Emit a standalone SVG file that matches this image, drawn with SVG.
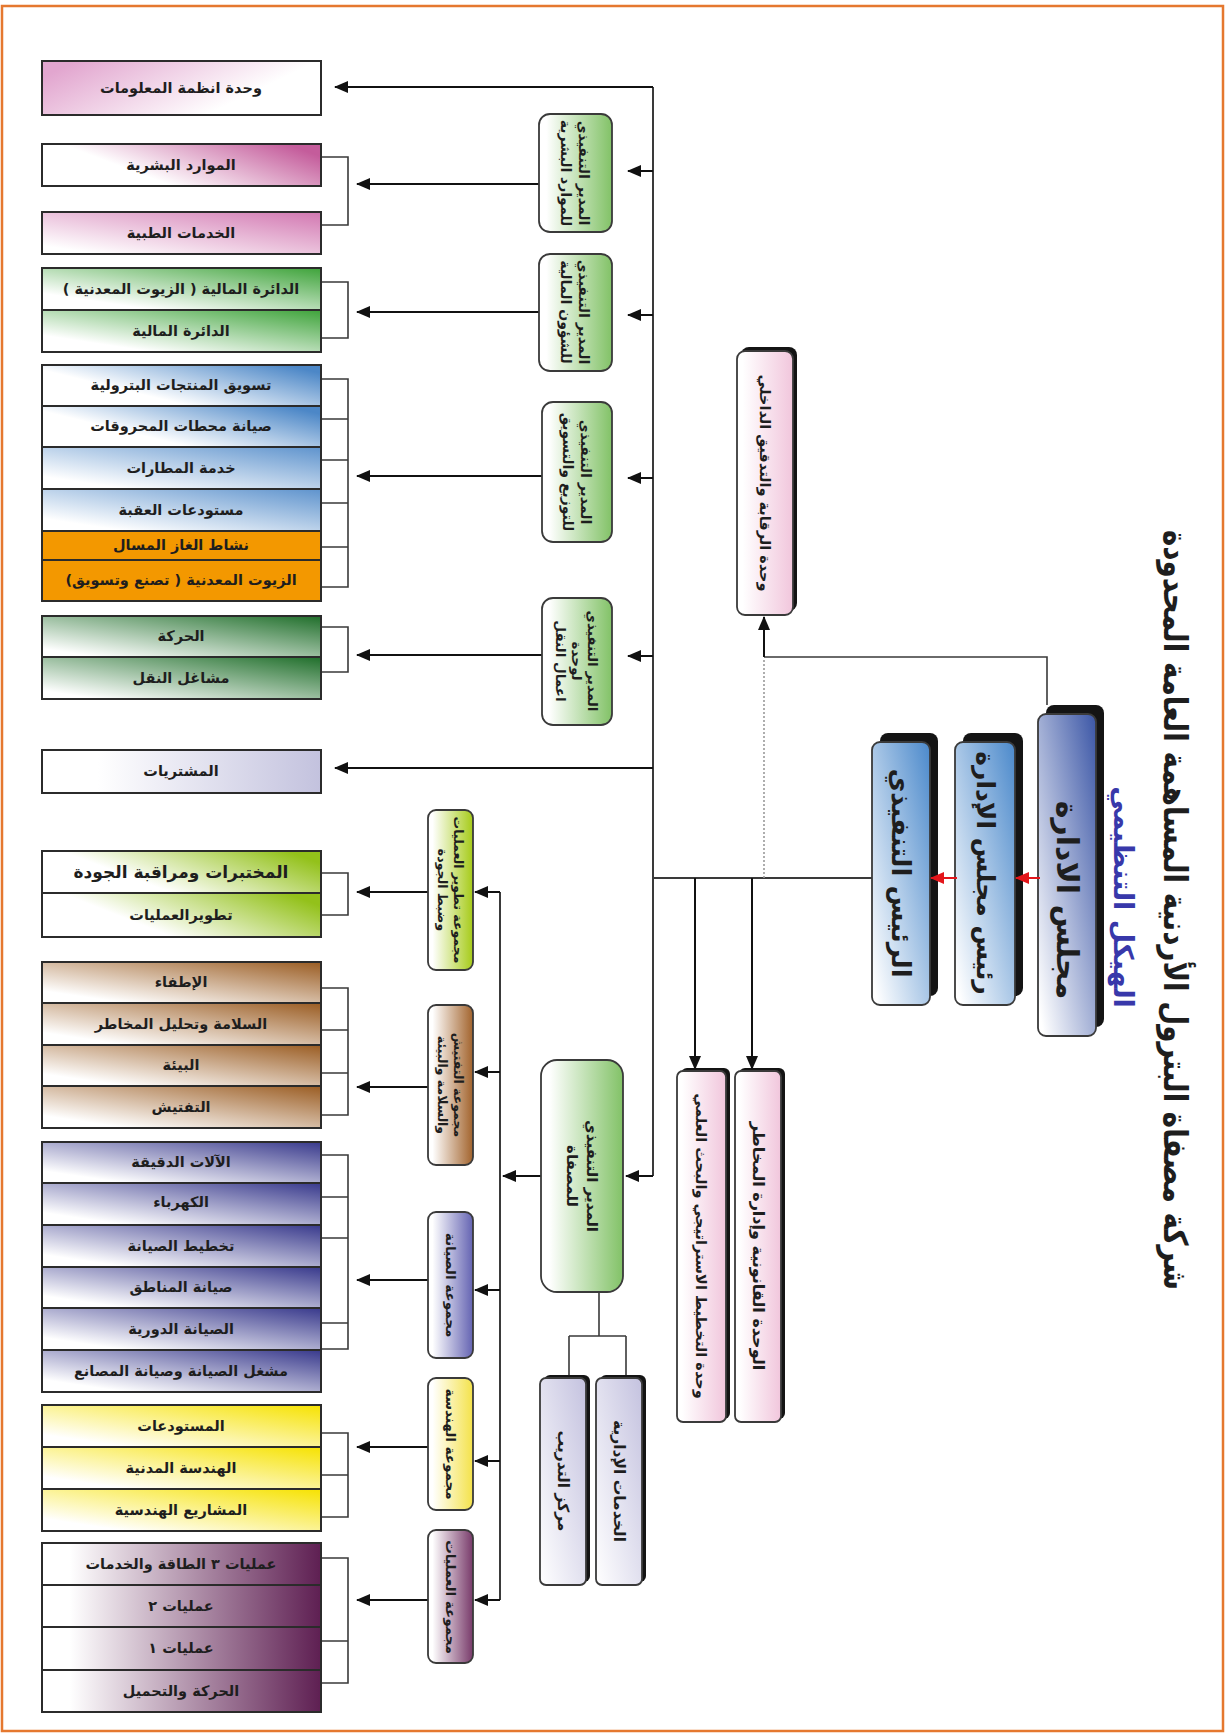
<svg xmlns="http://www.w3.org/2000/svg" width="1226" height="1733" viewBox="0 0 1226 1733">
<style>
.bx{stroke:#2b2b2b;stroke-width:2}
.rb{stroke:#3a3a3a;stroke-width:1.8}
.t{font-family:"DejaVu Sans",sans-serif;font-weight:bold;font-size:14.5px;fill:#1e1e1e;text-anchor:middle;dominant-baseline:central;direction:rtl}
.ln{stroke:#3a3a3a;stroke-width:1.6;fill:none}
.ar{stroke:#111;stroke-width:2;fill:none;marker-end:url(#ah)}
.rd{stroke:#e3161b;stroke-width:2;fill:none;marker-end:url(#ahr)}
.sh{fill:#141414}
</style>
<defs>
<marker id="ah" viewBox="0 0 14 12" refX="13" refY="6" markerWidth="14" markerHeight="12" markerUnits="userSpaceOnUse" orient="auto"><path d="M0,0 L14,6 L0,12 z" fill="#111"/></marker>
<marker id="ahr" viewBox="0 0 14 12" refX="13" refY="6" markerWidth="14" markerHeight="12" markerUnits="userSpaceOnUse" orient="auto"><path d="M0,0 L14,6 L0,12 z" fill="#e3161b"/></marker>
<linearGradient id="gPinkL" x1="0" y1="0.3" x2="1" y2="0.7"><stop offset="0" stop-color="#e2a6cf"/><stop offset="0.75" stop-color="#ffffff"/></linearGradient>
<linearGradient id="gMag" x1="0" y1="0.7" x2="1" y2="0.3"><stop offset="0.3" stop-color="#ffffff"/><stop offset="1" stop-color="#c45c9b"/></linearGradient>
<linearGradient id="gPinkM" x1="0" y1="1" x2="1" y2="0"><stop offset="0.1" stop-color="#ffffff"/><stop offset="1" stop-color="#d277b1"/></linearGradient>
<linearGradient id="gGreen" x1="0" y1="1" x2="1" y2="0"><stop offset="0.2" stop-color="#ffffff"/><stop offset="1" stop-color="#3ea33a"/></linearGradient>
<linearGradient id="gBlue" x1="0" y1="0.8" x2="1" y2="0.2"><stop offset="0.3" stop-color="#ffffff"/><stop offset="1" stop-color="#4c87c7"/></linearGradient>
<linearGradient id="gBlueL" x1="0" y1="1" x2="1" y2="0"><stop offset="0.15" stop-color="#ffffff"/><stop offset="1" stop-color="#5e93cd"/></linearGradient>
<linearGradient id="gDkGreen" x1="0" y1="1" x2="1" y2="0"><stop offset="0.1" stop-color="#ffffff"/><stop offset="1" stop-color="#1f6e2a"/></linearGradient>
<linearGradient id="gLav" x1="0" y1="0.5" x2="1" y2="0.5"><stop offset="0.2" stop-color="#ffffff"/><stop offset="1" stop-color="#c3c2de"/></linearGradient>
<linearGradient id="gLime" x1="0" y1="0.7" x2="1" y2="0.3"><stop offset="0.3" stop-color="#ffffff"/><stop offset="1" stop-color="#93c11a"/></linearGradient>
<linearGradient id="gBrown" x1="0" y1="1" x2="1" y2="0"><stop offset="0.15" stop-color="#ffffff"/><stop offset="1" stop-color="#9a5c22"/></linearGradient>
<linearGradient id="gIndigo" x1="0" y1="1" x2="1" y2="0"><stop offset="0.15" stop-color="#ffffff"/><stop offset="1" stop-color="#38398c"/></linearGradient>
<linearGradient id="gYellow" x1="0" y1="1" x2="1" y2="0"><stop offset="0.15" stop-color="#ffffff"/><stop offset="1" stop-color="#f6e200"/></linearGradient>
<linearGradient id="gPlum" x1="0" y1="0.5" x2="1" y2="0.5"><stop offset="0.1" stop-color="#ffffff"/><stop offset="1" stop-color="#5e1f52"/></linearGradient>
<linearGradient id="vGreen" x1="0" y1="0.5" x2="1" y2="0.5"><stop offset="0.1" stop-color="#ffffff"/><stop offset="1" stop-color="#82c267"/></linearGradient>
<linearGradient id="vLime" x1="0" y1="0.5" x2="1" y2="0.5"><stop offset="0.1" stop-color="#ffffff"/><stop offset="1" stop-color="#a6cb18"/></linearGradient>
<linearGradient id="vBrown" x1="0" y1="0.5" x2="1" y2="0.5"><stop offset="0.1" stop-color="#ffffff"/><stop offset="1" stop-color="#a2632c"/></linearGradient>
<linearGradient id="vIndigo" x1="0" y1="0.5" x2="1" y2="0.5"><stop offset="0.1" stop-color="#ffffff"/><stop offset="1" stop-color="#6463b2"/></linearGradient>
<linearGradient id="vYellow" x1="0" y1="0.5" x2="1" y2="0.5"><stop offset="0.1" stop-color="#ffffff"/><stop offset="1" stop-color="#f4e24a"/></linearGradient>
<linearGradient id="vPlum" x1="0" y1="0.5" x2="1" y2="0.5"><stop offset="0.1" stop-color="#ffffff"/><stop offset="1" stop-color="#783a6a"/></linearGradient>
<linearGradient id="vPink" x1="0" y1="0.5" x2="1" y2="0.5"><stop offset="0.1" stop-color="#ffffff"/><stop offset="1" stop-color="#f1c6dc"/></linearGradient>
<linearGradient id="vLav" x1="0" y1="1" x2="1" y2="0"><stop offset="0" stop-color="#ffffff"/><stop offset="1" stop-color="#c4c2df"/></linearGradient>
<linearGradient id="vBoard" x1="0" y1="1" x2="1" y2="0"><stop offset="0.05" stop-color="#ffffff"/><stop offset="1" stop-color="#3b56a6"/></linearGradient>
<linearGradient id="vBlue" x1="0" y1="1" x2="1" y2="0"><stop offset="0.05" stop-color="#ffffff"/><stop offset="1" stop-color="#4b89cb"/></linearGradient>
</defs>
<rect x="0" y="0" width="1226" height="1733" fill="#ffffff"/>
<rect x="2" y="6" width="1221" height="1725" fill="none" stroke="#e5782f" stroke-width="2.5"/>

<g id="title">
<text class="t" transform="translate(1175 910) rotate(90)" style="font-size:33px" textLength="760" lengthAdjust="spacingAndGlyphs">شركة مصفاة البترول الأردنية المساهمة العامة المحدودة</text>
<text class="t" transform="translate(1123 897) rotate(90)" style="font-size:27px;fill:#3838aa">الهيكل التنظيمي</text>
</g>

<g id="connectors">
<path class="ln" d="M321,157 H348 V225 H321"/>
<path class="ln" d="M321,282 H348 V338 H321"/>
<path class="ln" d="M321,379 H348 V587 H321 M321,419 H348 M321,460 H348 M321,503 H348 M321,547 H348"/>
<path class="ln" d="M321,627 H348 V672 H321"/>
<path class="ln" d="M321,873 H348 V915 H321"/>
<path class="ln" d="M321,988 H348 V1115 H321 M321,1030 H348 M321,1073 H348"/>
<path class="ln" d="M321,1155 H348 V1349 H321 M321,1197 H348 M321,1238 H348 M321,1323 H348"/>
<path class="ln" d="M321,1433 H348 V1517 H321 M321,1475 H348"/>
<path class="ln" d="M321,1558 H348 V1683 H321 M321,1641 H348"/>
<path class="ar" d="M539,184 H357"/>
<path class="ar" d="M539,312 H357"/>
<path class="ar" d="M542,476 H357"/>
<path class="ar" d="M542,655 H357"/>
<path class="ar" d="M428,892 H357"/>
<path class="ar" d="M428,1087 H357"/>
<path class="ar" d="M428,1280 H357"/>
<path class="ar" d="M428,1447 H357"/>
<path class="ar" d="M428,1600 H357"/>
<path class="ln" d="M653,87 V1176" style="stroke-width:2"/>
<path class="ar" d="M653,87 H335"/>
<path class="ar" d="M653,171 H628"/>
<path class="ar" d="M653,315 H628"/>
<path class="ar" d="M653,478 H628"/>
<path class="ar" d="M653,656 H628"/>
<path class="ar" d="M653,768 H335"/>
<path class="ar" d="M653,1176 H626"/>
<path class="ln" d="M872,878 H653" style="stroke-width:2"/>
<path class="ar" d="M695,878 V1069"/>
<path class="ar" d="M752,878 V1069"/>
<path d="M764,660 V878" stroke="#9a9a9a" stroke-width="1.6" stroke-dasharray="2 2" fill="none"/>
<path class="ln" d="M1047,705 V657 H764"/>
<path class="ar" d="M764,657 V617"/>
<path class="ln" d="M500,892 V1600" style="stroke-width:2"/>
<path class="ar" d="M500,892 H475"/>
<path class="ar" d="M500,1072 H475"/>
<path class="ar" d="M500,1290 H475"/>
<path class="ar" d="M500,1461 H475"/>
<path class="ar" d="M500,1600 H475"/>
<path class="ar" d="M541,1176 H503"/>
<path class="ln" d="M599,1292 V1336 M569,1336 H626 M569,1336 V1378 M626,1336 V1378"/>
</g>

<g id="info-systems"><rect class="bx" x="42" y="61" width="279" height="54" fill="url(#gPinkL)"/><text class="t" x="181" y="88">وحدة انظمة المعلومات</text></g>
<g id="hr"><rect class="bx" x="42" y="144" width="279" height="42" fill="url(#gMag)"/><text class="t" x="181" y="165">الموارد البشرية</text></g>
<g id="medical"><rect class="bx" x="42" y="212" width="279" height="42" fill="url(#gPinkM)"/><text class="t" x="181" y="233">الخدمات الطبية</text></g>
<g id="finance-oils"><rect class="bx" x="42" y="268" width="279" height="42" fill="url(#gGreen)"/><text class="t" x="181" y="289">الدائرة المالية ( الزيوت المعدنية )</text></g>
<g id="finance"><rect class="bx" x="42" y="310" width="279" height="42" fill="url(#gGreen)"/><text class="t" x="181" y="331">الدائرة المالية</text></g>
<g id="marketing"><rect class="bx" x="42" y="365" width="279" height="41" fill="url(#gBlue)"/><text class="t" x="181" y="385">تسويق المنتجات البترولية</text></g>
<g id="stations"><rect class="bx" x="42" y="406" width="279" height="41" fill="url(#gBlue)"/><text class="t" x="181" y="426">صيانة محطات المحروقات</text></g>
<g id="airports"><rect class="bx" x="42" y="447" width="279" height="42" fill="url(#gBlueL)"/><text class="t" x="181" y="468">خدمة المطارات</text></g>
<g id="aqaba"><rect class="bx" x="42" y="489" width="279" height="42" fill="url(#gBlueL)"/><text class="t" x="181" y="510">مستودعات العقبة</text></g>
<g id="lpg"><rect class="bx" x="42" y="531" width="279" height="29" fill="#f39800"/><text class="t" x="181" y="545">نشاط الغاز المسال</text></g>
<g id="oils"><rect class="bx" x="42" y="560" width="279" height="41" fill="#f39800"/><text class="t" x="181" y="580">الزيوت المعدنية ( تصنع وتسويق)</text></g>
<g id="movement"><rect class="bx" x="42" y="616" width="279" height="41" fill="url(#gDkGreen)"/><text class="t" x="181" y="636">الحركة</text></g>
<g id="workshops"><rect class="bx" x="42" y="657" width="279" height="42" fill="url(#gDkGreen)"/><text class="t" x="181" y="678">مشاغل النقل</text></g>
<g id="purchases"><rect class="bx" x="42" y="750" width="279" height="43" fill="url(#gLav)"/><text class="t" x="181" y="771">المشتريات</text></g>
<g id="labs"><rect class="bx" x="42" y="851" width="279" height="42" fill="url(#gLime)"/><text class="t" x="181" y="872" style="font-size:17px">المختبرات ومراقبة الجودة</text></g>
<g id="process-dev"><rect class="bx" x="42" y="893" width="279" height="44" fill="url(#gLime)"/><text class="t" x="181" y="915">تطويرالعمليات</text></g>
<g id="fire"><rect class="bx" x="42" y="962" width="279" height="41" fill="url(#gBrown)"/><text class="t" x="181" y="982">الإطفاء</text></g>
<g id="safety"><rect class="bx" x="42" y="1003" width="279" height="42" fill="url(#gBrown)"/><text class="t" x="181" y="1024">السلامة وتحليل المخاطر</text></g>
<g id="environment"><rect class="bx" x="42" y="1045" width="279" height="41" fill="url(#gBrown)"/><text class="t" x="181" y="1065">البيئة</text></g>
<g id="inspection"><rect class="bx" x="42" y="1086" width="279" height="42" fill="url(#gBrown)"/><text class="t" x="181" y="1107">التفتيش</text></g>
<g id="instruments"><rect class="bx" x="42" y="1142" width="279" height="41" fill="url(#gIndigo)"/><text class="t" x="181" y="1162">الآلات الدقيقة</text></g>
<g id="electric"><rect class="bx" x="42" y="1183" width="279" height="42" fill="url(#gIndigo)"/><text class="t" x="181" y="1202">الكهرباء</text></g>
<g id="planning"><rect class="bx" x="42" y="1225" width="279" height="42" fill="url(#gIndigo)"/><text class="t" x="181" y="1246">تخطيط الصيانة</text></g>
<g id="areas"><rect class="bx" x="42" y="1267" width="279" height="41" fill="url(#gIndigo)"/><text class="t" x="181" y="1287">صيانة المناطق</text></g>
<g id="periodic"><rect class="bx" x="42" y="1308" width="279" height="42" fill="url(#gIndigo)"/><text class="t" x="181" y="1329">الصيانة الدورية</text></g>
<g id="shops"><rect class="bx" x="42" y="1350" width="279" height="42" fill="url(#gIndigo)"/><text class="t" x="181" y="1371">مشغل الصيانة وصيانة المصانع</text></g>
<g id="warehouses"><rect class="bx" x="42" y="1405" width="279" height="42" fill="url(#gYellow)"/><text class="t" x="181" y="1426">المستودعات</text></g>
<g id="civil"><rect class="bx" x="42" y="1447" width="279" height="42" fill="url(#gYellow)"/><text class="t" x="181" y="1468">الهندسة المدنية</text></g>
<g id="projects"><rect class="bx" x="42" y="1489" width="279" height="42" fill="url(#gYellow)"/><text class="t" x="181" y="1510">المشاريع الهندسية</text></g>
<g id="ops3"><rect class="bx" x="42" y="1543" width="279" height="42" fill="url(#gPlum)"/><text class="t" x="181" y="1564">عمليات ٣ الطاقة والخدمات</text></g>
<g id="ops2"><rect class="bx" x="42" y="1585" width="279" height="42" fill="url(#gPlum)"/><text class="t" x="181" y="1606">عمليات ٢</text></g>
<g id="ops1"><rect class="bx" x="42" y="1627" width="279" height="43" fill="url(#gPlum)"/><text class="t" x="181" y="1648">عمليات ١</text></g>
<g id="loading"><rect class="bx" x="42" y="1670" width="279" height="42" fill="url(#gPlum)"/><text class="t" x="181" y="1691">الحركة والتحميل</text></g>

<g id="exec-hr"><rect class="rb" x="539" y="114" width="73" height="118" rx="11" fill="url(#vGreen)"/><text class="t" transform="translate(575 173) rotate(90)" style="font-size:14px"><tspan x="0" y="-9">المدير التنفيذي</tspan><tspan x="0" y="9">للموارد البشرية</tspan></text></g>
<g id="exec-finance"><rect class="rb" x="539" y="254" width="73" height="117" rx="11" fill="url(#vGreen)"/><text class="t" transform="translate(575 312) rotate(90)" style="font-size:14px"><tspan x="0" y="-9">المدير التنفيذي</tspan><tspan x="0" y="9">للشؤون المالية</tspan></text></g>
<g id="exec-distribution"><rect class="rb" x="542" y="402" width="70" height="140" rx="11" fill="url(#vGreen)"/><text class="t" transform="translate(577 472) rotate(90)" style="font-size:14px"><tspan x="0" y="-9">المدير التنفيذي</tspan><tspan x="0" y="9">للتوزيع والتسويق</tspan></text></g>
<g id="exec-transport"><rect class="rb" x="542" y="598" width="70" height="127" rx="11" fill="url(#vGreen)"/><text class="t" transform="translate(577 661) rotate(90)" style="font-size:13.5px"><tspan x="0" y="-16">المدير التنفيذي</tspan><tspan x="0" y="0">لوحدة</tspan><tspan x="0" y="16">اعمال النقل</tspan></text></g>
<g id="exec-refinery"><rect class="rb" x="541" y="1060" width="82" height="232" rx="16" fill="url(#vGreen)"/><text class="t" transform="translate(582 1176) rotate(90)" style="font-size:15px"><tspan x="0" y="-10">المدير التنفيذي</tspan><tspan x="0" y="10">للمصفاة</tspan></text></g>

<g id="grp-quality"><rect class="rb" x="428" y="810" width="45" height="160" rx="8" fill="url(#vLime)"/><text class="t" transform="translate(451 890) rotate(90)" style="font-size:12.5px"><tspan x="0" y="-8">مجموعة تطوير العمليات</tspan><tspan x="0" y="8">وضبط الجودة</tspan></text></g>
<g id="grp-safety"><rect class="rb" x="428" y="1005" width="45" height="160" rx="8" fill="url(#vBrown)"/><text class="t" transform="translate(451 1085) rotate(90)" style="font-size:12.5px"><tspan x="0" y="-8">مجموعة التفتيش</tspan><tspan x="0" y="8">والسلامة والبيئة</tspan></text></g>
<g id="grp-maintenance"><rect class="rb" x="428" y="1212" width="45" height="146" rx="8" fill="url(#vIndigo)"/><text class="t" transform="translate(451 1285) rotate(90)" style="font-size:13.5px">مجموعة الصيانة</text></g>
<g id="grp-engineering"><rect class="rb" x="428" y="1378" width="45" height="132" rx="8" fill="url(#vYellow)"/><text class="t" transform="translate(451 1444) rotate(90)" style="font-size:13.5px">مجموعة الهندسة</text></g>
<g id="grp-operations"><rect class="rb" x="428" y="1530" width="45" height="133" rx="8" fill="url(#vPlum)"/><text class="t" transform="translate(451 1597) rotate(90)" style="font-size:13.5px">مجموعة العمليات</text></g>

<g id="training"><rect class="sh" x="544" y="1375" width="46" height="207" rx="6"/><rect class="rb" x="540" y="1378" width="46" height="207" rx="6" fill="url(#vLav)"/><text class="t" transform="translate(563 1481) rotate(90)" style="font-size:15.5px">مركز التدريب</text></g>
<g id="admin"><rect class="sh" x="600" y="1375" width="46" height="207" rx="6"/><rect class="rb" x="596" y="1378" width="46" height="207" rx="6" fill="url(#vLav)"/><text class="t" transform="translate(619 1481) rotate(90)" style="font-size:15.5px">الخدمات الإدارية</text></g>
<g id="strategic"><rect class="sh" x="681" y="1068" width="49" height="351" rx="6"/><rect class="rb" x="677" y="1071" width="49" height="351" rx="6" fill="url(#vPink)"/><text class="t" transform="translate(701 1246) rotate(90)" style="font-size:14.5px">وحدة التخطيط الاستراتيجي والبحث العلمي</text></g>
<g id="legal"><rect class="sh" x="739" y="1068" width="46" height="351" rx="6"/><rect class="rb" x="735" y="1071" width="46" height="351" rx="6" fill="url(#vPink)"/><text class="t" transform="translate(758 1246) rotate(90)" style="font-size:16px">الوحدة القانونية وإدارة المخاطر</text></g>
<g id="audit"><rect class="sh" x="741" y="347" width="56" height="264" rx="8"/><rect class="rb" x="737" y="351" width="56" height="264" rx="8" fill="url(#vPink)"/><text class="t" transform="translate(765 483) rotate(90)" style="font-size:14.5px">وحدة الرقابة والتدقيق الداخلي</text></g>

<g id="board"><rect class="sh" x="1046" y="705" width="58" height="322" rx="8"/><rect class="rb" x="1038" y="714" width="58" height="322" rx="8" fill="url(#vBoard)"/><text class="t" transform="translate(1067 900) rotate(90)" style="font-size:30px">مجلس الادارة</text></g>
<g id="chairman"><rect class="sh" x="963" y="733" width="60" height="263" rx="8"/><rect class="rb" x="955" y="742" width="60" height="263" rx="8" fill="url(#vBlue)"/><text class="t" transform="translate(985 873) rotate(90)" style="font-size:25px">رئيس مجلس الإدارة</text></g>
<g id="ceo"><rect class="sh" x="880" y="733" width="58" height="263" rx="8"/><rect class="rb" x="872" y="742" width="58" height="263" rx="8" fill="url(#vBlue)"/><text class="t" transform="translate(901 873) rotate(90)" style="font-size:26px">الرئيس التنفيذي</text></g>

<g id="red-arrows">
<path class="rd" d="M1040,878 H1016"/>
<path class="rd" d="M957,878 H931"/>
</g>
</svg>
